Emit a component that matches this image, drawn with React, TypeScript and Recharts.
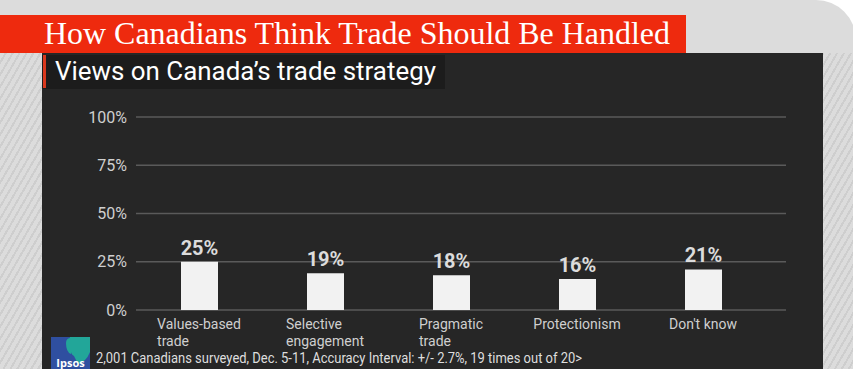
import React from "react";
import { BarChart, Bar, XAxis, YAxis, CartesianGrid, LabelList } from "recharts";

const categories = ["Values-based\ntrade", "Selective\nengagement", "Pragmatic\ntrade", "Protectionism", "Don't know"];
const shares = [25, 19, 18, 16, 21];
const yTicks = [0, 25, 50, 75, 100];
const titleText = "How Canadians Think Trade Should Be Handled";
const subtitleText = "Views on Canada\u2019s trade strategy";
const footnoteText = "2,001 Canadians surveyed, Dec. 5-11, Accuracy Interval: +/- 2.7%, 19 times out of 20>";

const data = categories.map((c, i) => ({ name: c, value: shares[i] }));

const TICK_FONT = "14px Roboto";
let ctx: CanvasRenderingContext2D | null = null;
function measure(s: string): number {
  if (!ctx) {
    const c = document.createElement("canvas");
    ctx = c.getContext("2d");
  }
  if (!ctx) return s.length * 7.2;
  ctx.font = TICK_FONT;
  return ctx.measureText(s).width;
}

const CategoryTick = (props: any) => {
  const { x, y, payload } = props;
  const lines = String(payload.value).split("\n");
  const widths = lines.map(measure);
  const w = Math.max(...widths);
  const x0 = x - w / 2;
  return (
    <g>
      {lines.map((l, i) => (
        <text
          key={i}
          x={x0}
          y={y + 19 + i * 16.5}
          fill="#cfcfcf"
          fontFamily="Roboto"
          fontSize={14}
          textAnchor="start"
        >
          {l}
        </text>
      ))}
    </g>
  );
};

export default function App() {
  return (
    <div
      style={{
        position: "fixed",
        left: 0,
        top: 0,
        width: 853,
        height: 369,
        overflow: "hidden",
        background: "#ffffff",
      }}
    >
      <div
        style={{
          position: "absolute",
          left: 0,
          top: 0,
          width: 856,
          height: 369,
          background: "#dcdcdc",
          borderTopRightRadius: 40,
        }}
      />
      <div
        style={{
          position: "absolute",
          left: 0,
          top: 53,
          width: 856,
          height: 316,
          backgroundImage:
            "repeating-linear-gradient(120deg, #dcdcdc 0px, #dcdcdc 4px, #cecece 4px, #cecece 6px)",
        }}
      />
      <div style={{ position: "absolute", left: 0, top: 15, width: 686, height: 38, background: "#ee2a0e" }} />
      <div style={{ position: "absolute", left: 42, top: 53, width: 781, height: 316, background: "#262626" }} />
      <div style={{ position: "absolute", left: 42, top: 55, width: 403, height: 34, background: "#1c1c1c" }} />
      <div style={{ position: "absolute", left: 43, top: 55, width: 3, height: 33, background: "#d9381e" }} />

      <svg width={853} height={369} style={{ position: "absolute", left: 0, top: 0 }}>
        <text
          x={44}
          y={44}
          fill="#ffffff"
          fontFamily="Liberation Serif"
          fontSize={31}
          textLength={626}
          lengthAdjust="spacingAndGlyphs"
        >
          {titleText}
        </text>
        <text
          x={55}
          y={80}
          fill="#ffffff"
          fontFamily="Roboto"
          fontSize={25}
          textLength={381}
          lengthAdjust="spacingAndGlyphs"
        >
          {subtitleText}
        </text>
        <rect x={51} y={337} width={39} height={34} fill="#2f4fa0" />
        <path d="M70 337 L90 337 L90 352 Q86 362 78 364 L74 356 Q70 354 71 348 Q68 344 70 337 Z" fill="#22a699" />
        <path d="M66 343 Q66 338 71 338 L71 354 Q66 352 66 343 Z" fill="#22a699" />
        <text x={70.5} y={367} fill="#ffffff" fontFamily="Open Sans" fontWeight={700} fontSize={11} textAnchor="middle">
          Ipsos
        </text>
        <text
          x={96}
          y={363}
          fill="#dedede"
          fontFamily="Roboto"
          fontSize={15}
          textLength={486}
          lengthAdjust="spacingAndGlyphs"
        >
          {footnoteText}
        </text>
      </svg>

      <div style={{ position: "absolute", left: 0, top: 0 }}>
        <BarChart width={853} height={369} data={data} margin={{ top: 117, right: 67, left: 0, bottom: 0 }}>
          <CartesianGrid vertical={false} stroke="#5a5a5a" strokeWidth={1.5} />
          <XAxis
            dataKey="name"
            height={59}
            axisLine={false}
            tickLine={false}
            tickSize={0}
            tickMargin={0}
            padding={{ left: 0, right: 20 }}
            interval={0}
            tick={<CategoryTick />}
          />
          <YAxis
            width={136}
            domain={[0, 100]}
            ticks={yTicks}
            axisLine={false}
            tickLine={false}
            tickSize={0}
            tickMargin={9}
            tickFormatter={(v: number) => `${v}%`}
            tick={{ fill: "#cfcfcf", fontFamily: "Roboto", fontSize: 16 }}
          />
          <Bar dataKey="value" fill="#f2f2f2" barSize={37} isAnimationActive={false}>
            <LabelList
              dataKey="value"
              position="top"
              offset={7}
              formatter={(v: any) => `${v}%`}
              fill="#dcdcdc"
              fontFamily="Roboto"
              fontWeight={700}
              fontSize={20}
            />
          </Bar>
        </BarChart>
      </div>
    </div>
  );
}
